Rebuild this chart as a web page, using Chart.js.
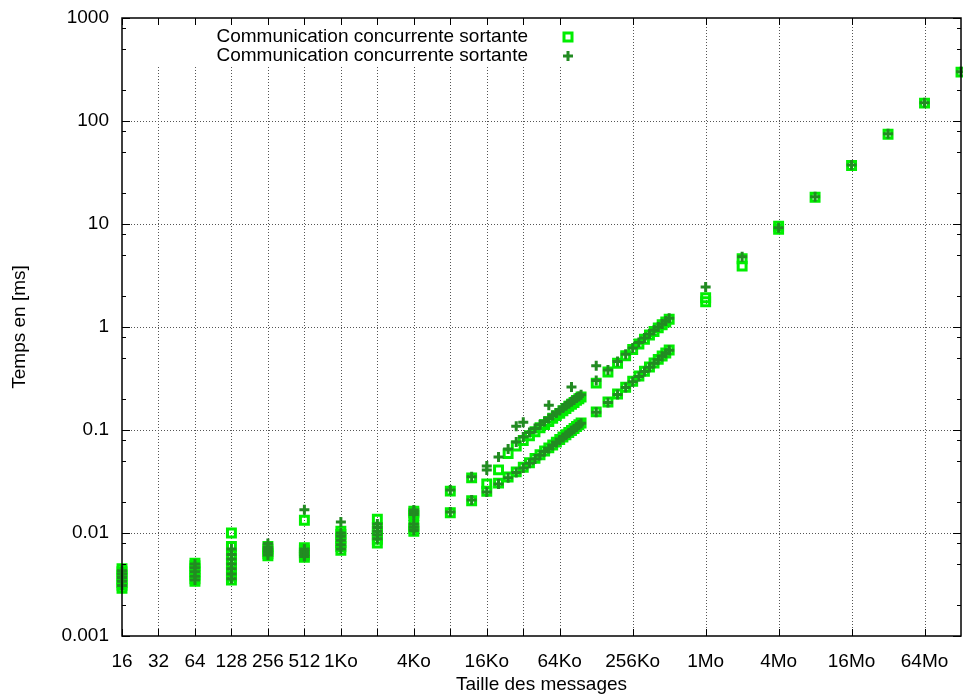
<!DOCTYPE html>
<html>
<head>
<meta charset="utf-8">
<script src="https://cdn.jsdelivr.net/npm/chart.js@4.4.0/dist/chart.umd.min.js"></script>
<style>
  html, body { margin: 0; padding: 0; background: #fff; overflow: hidden; }
  canvas { display: block; }
</style>
</head>
<body>
<canvas id="chart" width="963" height="700"></canvas>
<script>
// ========== data ==========
const LEGEND_LABEL = "Communication concurrente sortante";

// petites tailles (octets), plusieurs mesures par taille
const smallSizes = [16, 64, 128, 256, 512, 1024, 2048, 4096];
const smallSquares = [
  [0.0029, 0.0031, 0.0033, 0.0036, 0.0039, 0.0042, 0.0045],
  [0.0034, 0.0036, 0.0039, 0.0042, 0.0045, 0.0048, 0.0051],
  [0.0035, 0.0038, 0.0042, 0.0046, 0.0051, 0.0056, 0.0061, 0.0074, 0.0100],
  [0.0060, 0.0063, 0.0066, 0.0070, 0.0074],
  [0.0058, 0.0061, 0.0064, 0.0068, 0.0072, 0.0133],
  [0.0068, 0.0074, 0.0081, 0.0089, 0.0097, 0.0104],
  [0.0080, 0.0087, 0.0095, 0.0104, 0.0113, 0.0136],
  [0.0104, 0.0111, 0.0119, 0.0148, 0.0156, 0.0163],
];
const smallPlus = [
  [0.0031, 0.0034, 0.0037, 0.0040, 0.0043],
  [0.0035, 0.0038, 0.0042, 0.0046, 0.0050],
  [0.0036, 0.0040, 0.0045, 0.0050, 0.0056, 0.0062, 0.0070],
  [0.0061, 0.0065, 0.0069, 0.0073, 0.0079],
  [0.0059, 0.0062, 0.0066, 0.0070, 0.0168],
  [0.0070, 0.0077, 0.0085, 0.0093, 0.0100, 0.0128],
  [0.0088, 0.0096, 0.0104, 0.0113, 0.0122],
  [0.0106, 0.0114, 0.0122, 0.0151, 0.0159, 0.0167],
];

// tailles moyennes (Ko) : deux paliers, haut et bas
const midSizesKo = [8, 12, 16, 20, 24, 28, 32, 36, 40, 44, 48, 52, 56, 60, 64, 68, 72, 76, 80, 84, 88, 92, 96,
  128, 160, 192, 224, 256, 288, 320, 352, 384, 416, 448, 480, 512];
const plusHigh = [0.0262, 0.0352, 0.0447, 0.0547, 0.0654, 0.0765, 0.0855, 0.0946, 0.1034, 0.1123, 0.1209, 0.1296,
  0.1383, 0.1466, 0.1546, 0.1635, 0.1718, 0.1796, 0.1883, 0.1960, 0.2045, 0.2120, 0.2202,
  0.3024, 0.3824, 0.4624, 0.5433, 0.6254, 0.7072, 0.7820, 0.8551, 0.9290, 1.0000, 1.0690, 1.1440, 1.2150];
const squaresHigh = [0.0255, 0.0343, 0.0300, 0.0410, 0.0590, 0.0700, 0.0790, 0.0880, 0.0960, 0.1050, 0.1130, 0.1210,
  0.1300, 0.1380, 0.1450, 0.1540, 0.1620, 0.1700, 0.1780, 0.1850, 0.1940, 0.2010, 0.2090,
  0.2850, 0.3650, 0.4450, 0.5250, 0.6050, 0.6850, 0.7600, 0.8350, 0.9050, 0.9800, 1.0500, 1.1200, 1.1900];
const plusLow = [0.0160, 0.0209, 0.0250, 0.0299, 0.0344, 0.0387, 0.0428, 0.0475, 0.0523, 0.0569, 0.0617, 0.0663,
  0.0709, 0.0755, 0.0800, 0.0846, 0.0890, 0.0935, 0.0982, 0.1025, 0.1072, 0.1116, 0.1161,
  0.1485, 0.1849, 0.2217, 0.2580, 0.2943, 0.3315, 0.3690, 0.4062, 0.4443, 0.4815, 0.5194, 0.5566, 0.5941];
const squaresLow = [0.0157, 0.0206, 0.0254, 0.0305, 0.0350, 0.0392, 0.0435, 0.0480, 0.0530, 0.0575, 0.0625, 0.0670,
  0.0715, 0.0762, 0.0810, 0.0855, 0.0900, 0.0945, 0.0990, 0.1035, 0.1080, 0.1125, 0.1170,
  0.1500, 0.1870, 0.2240, 0.2600, 0.2970, 0.3340, 0.3720, 0.4090, 0.4470, 0.4850, 0.5220, 0.5600, 0.5980];

// points isolés (croix)
const plusOutlierKo = [16, 28, 32, 52, 80, 128];
const plusOutlierMs = [0.0410, 0.109, 0.119, 0.174, 0.262, 0.420];

// grandes tailles (Mo)
const bigSizesMo = [1, 2, 4, 8, 16, 32, 64, 128];
const bigSquares = [[1.76, 1.92], [3.9, 4.6], [8.9, 9.5], [18.2], [37.0], [74.5], [149], [298]];
const bigPlus = [[2.44], [4.8], [9.2], [18.4], [37.4], [75.0], [150], [300]];

// ========== axes ==========
const X_MIN = 16, X_MAX = 134217728;
const Y_MIN = 0.001, Y_MAX = 1000;
const xTickValues = [16, 32, 64, 128, 256, 512, 1024, 2048, 4096, 8192, 16384, 32768, 65536,
  262144, 1048576, 4194304, 16777216, 67108864];
const xTickLabels = ["16", "32", "64", "128", "256", "512", "1Ko", "", "4Ko", "", "16Ko", "", "64Ko",
  "256Ko", "1Mo", "4Mo", "16Mo", "64Mo"];
const yTickValues = [0.001, 0.01, 0.1, 1, 10, 100, 1000];
const yTickLabels = ["0.001", "0.01", "0.1", "1", "10", "100", "1000"];
const yMinorFactors = [2, 5, 8];

const SQUARE_COLOR = "#00ee00";
const PLUS_COLOR = "#228b22";
const FONT = "'Liberation Sans', Arial, sans-serif";

// ========== build points ==========
const KO = 1024, MO = 1024 * 1024;
const multi = (sizes, values, unit) =>
  sizes.flatMap((s, i) => values[i].map((v) => ({ x: s * unit, y: v })));
const single = (sizes, values, unit) => sizes.map((s, i) => ({ x: s * unit, y: values[i] }));

const squarePoints = [
  ...multi(smallSizes, smallSquares, 1),
  ...single(midSizesKo, squaresHigh, KO),
  ...single(midSizesKo, squaresLow, KO),
  ...multi(bigSizesMo, bigSquares, MO),
];
const plusPoints = [
  ...multi(smallSizes, smallPlus, 1),
  ...single(midSizesKo, plusHigh, KO),
  ...single(midSizesKo, plusLow, KO),
  ...single(plusOutlierKo, plusOutlierMs, KO),
  ...multi(bigSizesMo, bigPlus, MO),
];

// ========== gnuplot-like frame ==========
const LEGEND_RIGHT = 585, LEGEND_BOTTOM = 67;

function drawSquare(ctx, x, y) {
  ctx.strokeStyle = SQUARE_COLOR;
  ctx.lineWidth = 3;
  ctx.strokeRect(x - 4, y - 4, 8, 8);
}
function drawPlus(ctx, x, y) {
  ctx.strokeStyle = PLUS_COLOR;
  ctx.lineWidth = 3;
  ctx.beginPath();
  ctx.moveTo(x - 5, y); ctx.lineTo(x + 5, y);
  ctx.moveTo(x, y - 5); ctx.lineTo(x, y + 5);
  ctx.stroke();
}

const gnuplotFrame = {
  id: "gnuplotFrame",
  beforeDatasetsDraw(chart) {
    const { ctx, chartArea: a, scales: { x, y } } = chart;
    ctx.save();
    ctx.strokeStyle = "#555";
    ctx.lineWidth = 1;
    ctx.setLineDash([1, 2]);
    ctx.beginPath();
    xTickValues.forEach((v) => {
      const px = Math.round(x.getPixelForValue(v)) + 0.5;
      if (px <= a.left + 2 || px >= a.right - 2) return;
      const top = px < LEGEND_RIGHT ? LEGEND_BOTTOM : a.top;
      ctx.moveTo(px, top); ctx.lineTo(px, a.bottom);
    });
    yTickValues.forEach((v) => {
      const py = Math.round(y.getPixelForValue(v)) + 0.5;
      if (py <= a.top + 2 || py >= a.bottom - 2) return;
      ctx.moveTo(a.left, py); ctx.lineTo(a.right, py);
    });
    ctx.stroke();
    ctx.restore();
  },
  afterDatasetsDraw(chart) {
    const { ctx, chartArea: a, scales: { x, y } } = chart;
    ctx.save();
    ctx.strokeStyle = "#000";
    ctx.lineWidth = 1;
    ctx.beginPath();
    // x ticks (inward, mirrored)
    xTickValues.forEach((v) => {
      const px = Math.round(x.getPixelForValue(v)) + 0.5;
      ctx.moveTo(px, a.bottom); ctx.lineTo(px, a.bottom - 7);
      ctx.moveTo(px, a.top); ctx.lineTo(px, a.top + 7);
    });
    // y ticks, major and minor
    yTickValues.forEach((v, i) => {
      const py = Math.round(y.getPixelForValue(v)) + 0.5;
      ctx.moveTo(a.left, py); ctx.lineTo(a.left + 8, py);
      ctx.moveTo(a.right, py); ctx.lineTo(a.right - 8, py);
      if (i === yTickValues.length - 1) return;
      yMinorFactors.forEach((f) => {
        const pm = Math.round(y.getPixelForValue(v * f)) + 0.5;
        ctx.moveTo(a.left, pm); ctx.lineTo(a.left + 4, pm);
        ctx.moveTo(a.right, pm); ctx.lineTo(a.right - 4, pm);
      });
    });
    ctx.stroke();
    ctx.lineWidth = 1.5;
    ctx.strokeRect(a.left, a.top, a.right - a.left, a.bottom - a.top);

    // legend
    ctx.font = "19px " + FONT;
    ctx.fillStyle = "#000";
    ctx.textAlign = "right";
    ctx.textBaseline = "middle";
    ctx.fillText(LEGEND_LABEL, 528, 37);
    ctx.fillText(LEGEND_LABEL, 528, 56);
    drawSquare(ctx, 568, 37);
    drawPlus(ctx, 568, 56);
    ctx.restore();
  },
};

// ========== chart ==========
Chart.defaults.font.family = FONT;
Chart.defaults.font.size = 19;
Chart.defaults.color = "#000";

const chart = new Chart(document.getElementById("chart"), {
  type: "scatter",
  data: {
    datasets: [
      {
        label: LEGEND_LABEL,
        data: squarePoints,
        order: 2,
        clip: false,
        pointStyle: "rect",
        pointRadius: 5.6,
        pointHoverRadius: 5.6,
        pointBorderWidth: 3,
        pointBorderColor: SQUARE_COLOR,
        pointBackgroundColor: "rgba(0,0,0,0)",
      },
      {
        label: LEGEND_LABEL,
        data: plusPoints,
        order: 1,
        clip: false,
        pointStyle: "cross",
        pointRadius: 5,
        pointHoverRadius: 5,
        pointBorderWidth: 3,
        pointBorderColor: PLUS_COLOR,
        pointBackgroundColor: PLUS_COLOR,
      },
    ],
  },
  options: {
    responsive: false,
    animation: false,
    layout: { autoPadding: false, padding: { top: 18, right: 2, left: 0, bottom: 0 } },
    plugins: { legend: { display: false }, tooltip: { enabled: false } },
    scales: {
      x: {
        type: "logarithmic",
        min: X_MIN,
        max: X_MAX,
        grid: { display: false, drawTicks: false },
        border: { display: false },
        afterBuildTicks: (s) => { s.ticks = xTickValues.map((v) => ({ value: v })); },
        afterFit: (s) => { s.height = 64; s.paddingLeft = 0; s.paddingRight = 0; },
        ticks: {
          autoSkip: false,
          maxRotation: 0,
          minRotation: 0,
          padding: 14,
          callback: (v, i) => xTickLabels[i],
        },
        title: { display: true, text: "Taille des messages", padding: { top: 0, bottom: 4 } },
      },
      y: {
        type: "logarithmic",
        min: Y_MIN,
        max: Y_MAX,
        grid: { display: false, drawTicks: false },
        border: { display: false },
        afterBuildTicks: (s) => { s.ticks = yTickValues.map((v) => ({ value: v })); },
        afterFit: (s) => { s.width = 122; s.paddingTop = 0; s.paddingBottom = 0; },
        ticks: {
          autoSkip: false,
          padding: 13,
          callback: (v, i) => yTickLabels[i],
        },
        title: { display: true, text: "Temps en [ms]", padding: { top: 8, bottom: 0 } },
      },
    },
  },
  plugins: [gnuplotFrame],
});
</script>
</body>
</html>
